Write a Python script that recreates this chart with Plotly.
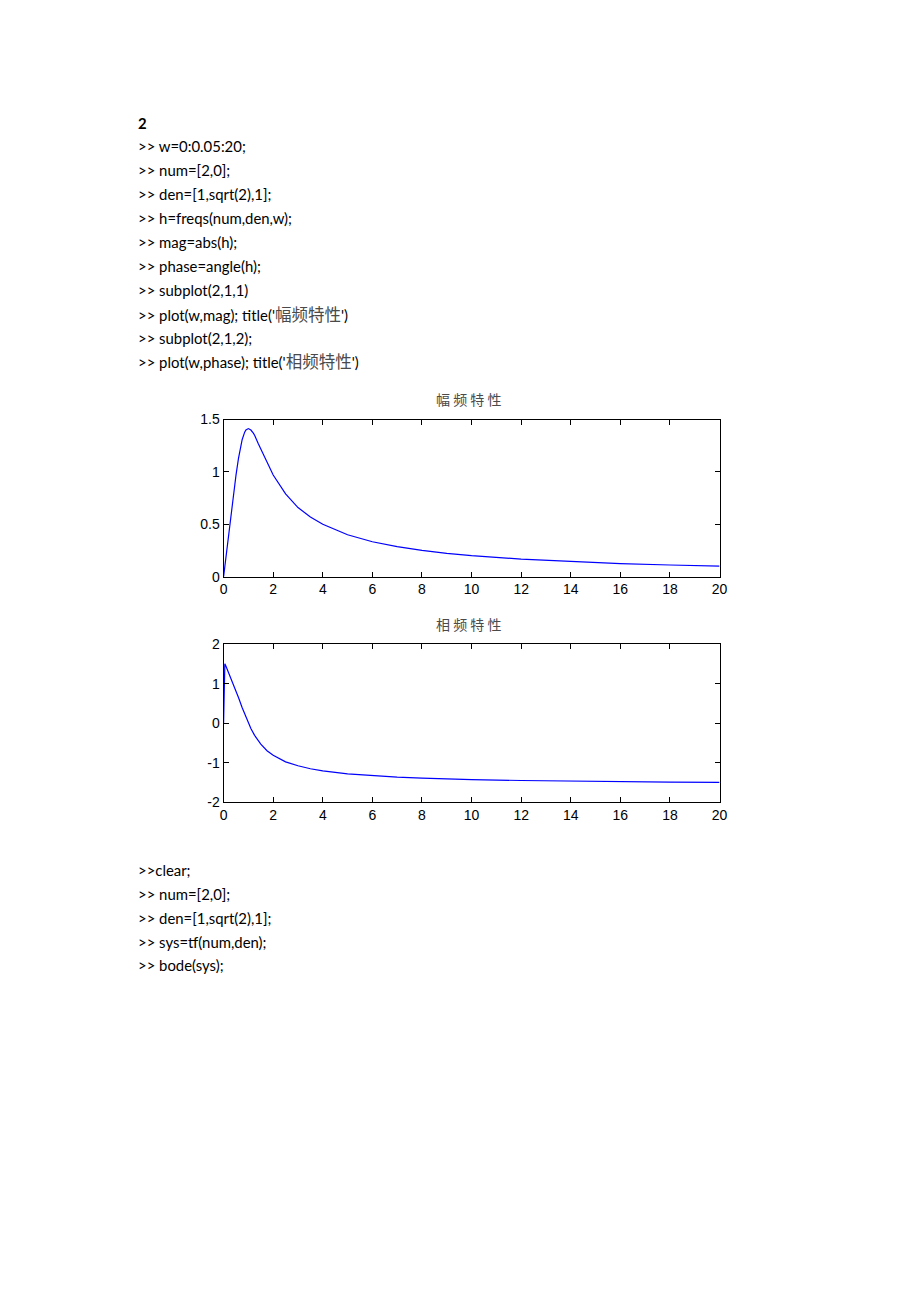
import plotly.graph_objects as go

W, H = 920, 1302

# ---- data ----
w_vals = [0, 0.05, 0.1, 0.25, 0.4, 0.5, 0.6, 0.75, 0.85, 0.9, 1.0, 1.1, 1.2, 1.25, 1.4, 1.5,
          1.75, 2.0, 2.5, 3.0, 3.5, 4.0, 5.0, 6.0, 7.0, 8.0, 9.0, 10.0, 12.0, 14.0, 16.0, 18.0, 20.0]
mag_vals = [0, 0.10, 0.20, 0.50, 0.79, 0.97, 1.13, 1.31, 1.38, 1.40, 1.414, 1.40, 1.37, 1.35,
            1.27, 1.22, 1.09, 0.97, 0.79, 0.66, 0.57, 0.50, 0.40, 0.333, 0.286, 0.250, 0.222,
            0.200, 0.167, 0.143, 0.125, 0.111, 0.100]
phase_w = [0, 0.05, 0.1, 0.25, 0.4, 0.5, 0.6, 0.75, 0.9, 1.0, 1.1, 1.25, 1.4, 1.5, 1.75, 2.0,
           2.5, 3.0, 3.5, 4.0, 5.0, 6.0, 7.0, 8.0, 9.0, 10.0, 12.0, 14.0, 16.0, 18.0, 20.0]
phase_vals = [0, 1.50, 1.43, 1.21, 0.98, 0.815, 0.65, 0.39, 0.15, 0.0, -0.135, -0.31, -0.45,
              -0.53, -0.70, -0.815, -0.98, -1.08, -1.156, -1.21, -1.284, -1.333, -1.368, -1.393,
              -1.413, -1.429, -1.453, -1.470, -1.482, -1.492, -1.500]

x_ticks = [0, 2, 4, 6, 8, 10, 12, 14, 16, 18, 20]
mag_ticks = [0, 0.5, 1, 1.5]
mag_tick_text = ["0", "0.5", "1", "1.5"]
phase_ticks = [-2, -1, 0, 1, 2]
phase_tick_text = ["-2", "-1", "0", "1", "2"]

title_top = "幅 频 特 性"
title_bottom = "相 频 特 性"

CJK = "<span style='font-family:Noto Sans CJK SC;font-size:16.5px;color:#4a4a4a'>{}</span>"
code_block1 = [">> w=0:0.05:20;", ">> num=[2,0];", ">> den=[1,sqrt(2),1];",
               ">> h=freqs(num,den,w);", ">> mag=abs(h);", ">> phase=angle(h);",
               ">> subplot(2,1,1)", ">> plot(w,mag); title('" + CJK.format("幅频特性") + "')",
               ">> subplot(2,1,2);", ">> plot(w,phase); title('" + CJK.format("相频特性") + "')"]
code_block2 = [">>clear;", ">> num=[2,0];", ">> den=[1,sqrt(2),1];",
               ">> sys=tf(num,den);", ">> bode(sys);"]


def px(pix):
    return pix / W


def py(pix):
    return 1 - pix / H


# ---- figure ----
fig = go.Figure()
fig.add_trace(go.Scatter(x=w_vals, y=mag_vals, mode="lines",
                         line=dict(color="#0000ff", width=1.2),
                         xaxis="x", yaxis="y", showlegend=False))
fig.add_trace(go.Scatter(x=phase_w, y=phase_vals, mode="lines",
                         line=dict(color="#0000ff", width=1.2),
                         xaxis="x2", yaxis="y2", showlegend=False))

xdom = [px(222.5), px(725)]
axis_common = dict(showline=True, mirror="ticks", linecolor="black", linewidth=1,
                   ticks="inside", ticklen=5, tickcolor="black", showgrid=False,
                   zeroline=False,
                   tickfont=dict(family="Liberation Sans, Arial", size=14, color="black"))

fig.update_layout(
    width=W, height=H, margin=dict(l=0, r=0, t=0, b=0),
    paper_bgcolor="white", plot_bgcolor="white",
    xaxis=dict(domain=xdom, anchor="y", range=[0, 20], tickvals=x_ticks, **axis_common),
    yaxis=dict(domain=[py(575.7), py(416.7)], anchor="x", range=[0, 1.5],
               tickvals=mag_ticks, ticktext=mag_tick_text, **axis_common),
    xaxis2=dict(domain=xdom, anchor="y2", range=[0, 20], tickvals=x_ticks, **axis_common),
    yaxis2=dict(domain=[py(804), py(644)], anchor="x2", range=[-2, 2],
                tickvals=phase_ticks, ticktext=phase_tick_text, **axis_common),
)

annotations = []
tfont = dict(family="Noto Sans CJK SC", size=14, color="#4a4a4a")
annotations.append(dict(text=title_top, x=px(471), y=py(396), xref="paper", yref="paper",
                        xanchor="center", yanchor="middle", showarrow=False, font=tfont))
annotations.append(dict(text=title_bottom, x=px(471), y=py(624), xref="paper", yref="paper",
                        xanchor="center", yanchor="middle", showarrow=False, font=tfont))

text_font = dict(family="Lato, Noto Sans CJK SC", size=14.9, color="black")
annotations.append(dict(text="<b>2</b>", x=px(134), y=py(116), xref="paper", yref="paper",
                        xanchor="left", yanchor="middle", showarrow=False, font=text_font))
y0 = 140
for i, line in enumerate(code_block1):
    annotations.append(dict(text=line, x=px(134), y=py(y0 + i * 24.2), xref="paper", yref="paper",
                            xanchor="left", yanchor="middle", showarrow=False, font=text_font))
y1 = 873
for i, line in enumerate(code_block2):
    annotations.append(dict(text=line, x=px(134), y=py(y1 + i * 24.1), xref="paper", yref="paper",
                            xanchor="left", yanchor="middle", showarrow=False, font=text_font))

fig.update_layout(annotations=annotations)
fig.write_html("out.html")
